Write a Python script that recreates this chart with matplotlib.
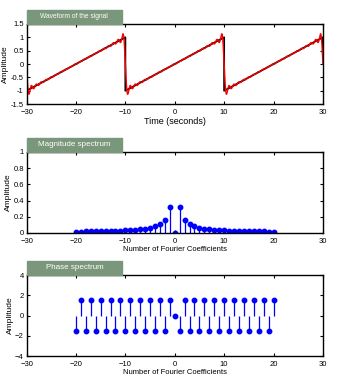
import numpy as np
import matplotlib
matplotlib.use("Agg")
import matplotlib.pyplot as plt
from matplotlib.patches import Rectangle

plt.rcParams['font.family'] = ['Liberation Sans', 'DejaVu Sans']

# Fourier coefficient indices
n_coef = list(range(-20, 21))
# magnitude |c_n|
mag_pos = [0.318, 0.159, 0.106, 0.080, 0.064, 0.053, 0.045, 0.040, 0.035, 0.032,
           0.029, 0.027, 0.024, 0.023, 0.021, 0.020, 0.019, 0.018, 0.017, 0.016]
magnitude = mag_pos[::-1] + [0.0] + mag_pos
# phase (radians), alternating +/- pi/2
phase_pos = [-1.571, 1.571] * 10
phase = [-p for p in phase_pos[::-1]] + [0.0] + phase_pos

period = 20.0
# original sawtooth breakpoints (time, amplitude)
saw_t = [-30, -10, -10, 10, 10, 30, 30]
saw_v = [-1, 1, -1, 1, -1, 1, 0.2]

fig = plt.figure(figsize=(3.45, 3.8), dpi=100)
L, W = 0.077, 0.859
pos = [(L, 0.726, W, 0.211), (L, 0.387, W, 0.213), (L, 0.063, W, 0.213)]
titles = ["Waveform of the signal", "Magnitude spectrum", "Phase spectrum"]
title_fs = [4.8, 5.8, 5.8]
box_color = "#7b977b"
fs = 5.5

axes = [fig.add_axes(p) for p in pos]
for ax, p, t, tf in zip(axes, pos, titles, title_fs):
    fig.patches.append(Rectangle((p[0], p[1] + p[3]), 0.277, 0.036,
                                 transform=fig.transFigure, color=box_color, zorder=0))
    fig.text(p[0] + 0.1385, p[1] + p[3] + 0.019, t, color='white', fontsize=tf,
             ha='center', va='center')
    ax.tick_params(direction='in', top=True, right=True, labelsize=fs, length=2.5,
                   width=0.8)
    ax.tick_params(axis='x', pad=3.5)
    ax.tick_params(axis='y', pad=2)
    for s in ax.spines.values():
        s.set_linewidth(1.0)
    ax.set_xlim(-30, 30)
    ax.set_xticks([-30, -20, -10, 0, 10, 20, 30])
    ax.set_ylabel("Amplitude", fontsize=6, labelpad=1)

# waveform
ax = axes[0]
tt = np.linspace(-30, 30, 3001)
recon = np.zeros_like(tt)
for k, m, ph in zip(n_coef, magnitude, phase):
    recon += m * np.cos(2 * np.pi * k * tt / period + ph)
ax.plot(saw_t, saw_v, color='black', lw=1.3)
ax.plot(tt, recon, color='red', lw=1.0)
ax.set_ylim(-1.5, 1.5)
ax.set_yticks([-1.5, -1, -0.5, 0, 0.5, 1, 1.5])
ax.set_yticklabels(["-1.5", "-1", "-0.5", "0", "0.5", "1", "1.5"])
ax.set_xlabel("Time (seconds)", fontsize=6.5, labelpad=1)

# magnitude
ax = axes[1]
ml, sl, bl = ax.stem(n_coef, magnitude, basefmt=' ')
plt.setp(sl, color='blue', lw=0.9)
plt.setp(ml, color='blue', markersize=3.2)
ax.set_ylim(0, 1)
ax.set_yticks([0, 0.2, 0.4, 0.6, 0.8, 1])
ax.set_yticklabels(["0", "0.2", "0.4", "0.6", "0.8", "1"])
ax.set_xlabel("Number of Fourier Coefficients", fontsize=5.5, labelpad=1)

# phase
ax = axes[2]
ml, sl, bl = ax.stem(n_coef, phase, basefmt=' ')
plt.setp(sl, color='blue', lw=0.9)
plt.setp(ml, color='blue', markersize=3.2)
ax.set_ylim(-4, 4)
ax.set_yticks([-4, -2, 0, 2, 4])
ax.set_xlabel("Number of Fourier Coefficients", fontsize=5.5, labelpad=1)

fig.savefig("out.png", dpi=100)
